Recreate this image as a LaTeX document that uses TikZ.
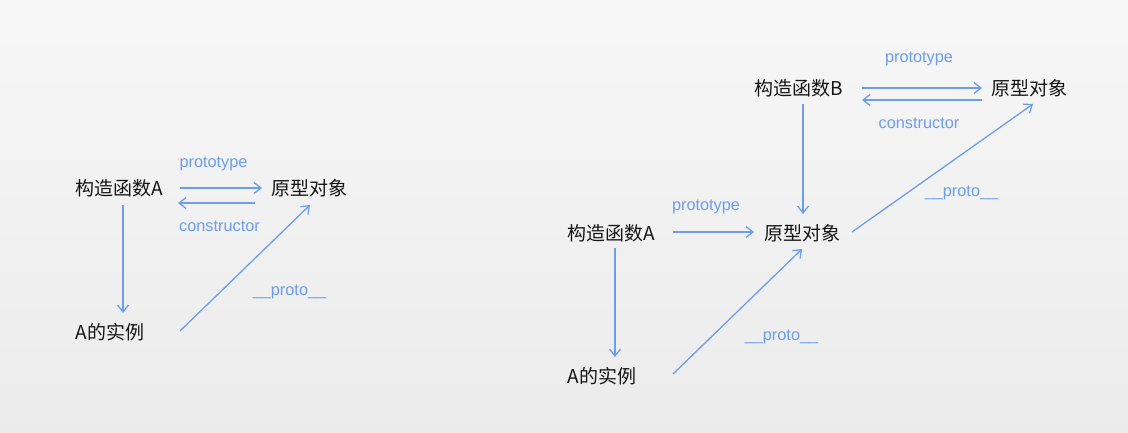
\documentclass[tikz,border=0pt]{standalone}
\usepackage{fontspec}
\setmainfont{Liberation Sans}
\newfontfamily\cjk{Noto Sans CJK SC}
\usepackage{xcolor}
\usepackage{tikz}
\usetikzlibrary{calc}
\usetikzlibrary{arrows.meta}
\definecolor{linkblue}{HTML}{6D9EEB}
\definecolor{inkgray}{HTML}{151515}

\begin{document}
\begin{tikzpicture}[x=1pt,y=-1pt]
        \tikzstyle{box} = [inner sep=0pt, text height=14pt, text depth=0pt, font=\cjk\fontsize{19}{19}\selectfont, text=inkgray]
        \tikzstyle{lbl} = [inner sep=0pt, text height=10pt, text depth=0pt, font=\fontsize{16.3}{16.3}\selectfont, text=linkblue]
        \tikzstyle{link} = [draw=linkblue, line width=1.3pt, -{Straight Barb[length=7pt,width=11pt]}]

        \useasboundingbox (0,0) rectangle (1128,432);
        \shade[top color=white!99!black, bottom color=black!10] (0,-216) rectangle (1128,648);

        % left picture
        \node[box] (ctorA) at (119,188) {构造函数A};
        \node[box] (protoA) at (309.5,188) {原型对象};
        \node[box] (instA) at (110,332) {A的实例};
        \node[lbl] (protoLblA) at (213.5,162.5) {prototype};
        \node[lbl] (ctorLblA) at (219.5,226.5) {constructor};
        \node[lbl] (linkLblA) at (289.5,290) {\_\_proto\_\_};

        \draw[link] ($(ctorA)+(61,0)$) -- ($(protoA)+(-47.5,0)$);
        \draw[link] ($(protoA)+(-54.5,15)$) -- ($(ctorA)+(59,15)$);
        \draw[link] ($(ctorA)+(4,17)$) -- ($(instA)+(13,-19)$);
        \draw[link] ($(instA)+(70,-1)$) -- ($(protoA)+(0.5,17)$);

        % right picture
        \node[box] (ctorB) at (799,88) {构造函数B};
        \node[box] (protoB) at (1029,88) {原型对象};
        \node[box] (ctorA2) at (611.5,233) {构造函数A};
        \node[box] (protoA2) at (802,233) {原型对象};
        \node[box] (instA2) at (602,376) {A的实例};
        \node[lbl] (protoLblB) at (919,57.5) {prototype};
        \node[lbl] (ctorLblB) at (919,123.5) {constructor};
        \node[lbl] (protoLblA2) at (706,205.5) {prototype};
        \node[lbl] (linkLblB) at (961.5,191) {\_\_proto\_\_};
        \node[lbl] (linkLblA2) at (781.5,335) {\_\_proto\_\_};

        \draw[link] ($(ctorB)+(63,0)$) -- ($(protoB)+(-47,0)$);
        \draw[link] ($(protoB)+(-47,12)$) -- ($(ctorB)+(63,12)$);
        \draw[link] ($(ctorB)+(4,16)$) -- ($(protoA2)+(1,-19)$);
        \draw[link] ($(ctorA2)+(61.5,-1)$) -- ($(protoA2)+(-48,-1)$);
        \draw[link] ($(ctorA2)+(3.5,15)$) -- ($(instA2)+(13,-19)$);
        \draw[link] ($(instA2)+(71,-2)$) -- ($(protoA2)+(0,16)$);
        \draw[link] ($(protoA2)+(50,-1)$) -- ($(protoB)+(4,16)$);
\end{tikzpicture}
\end{document}
